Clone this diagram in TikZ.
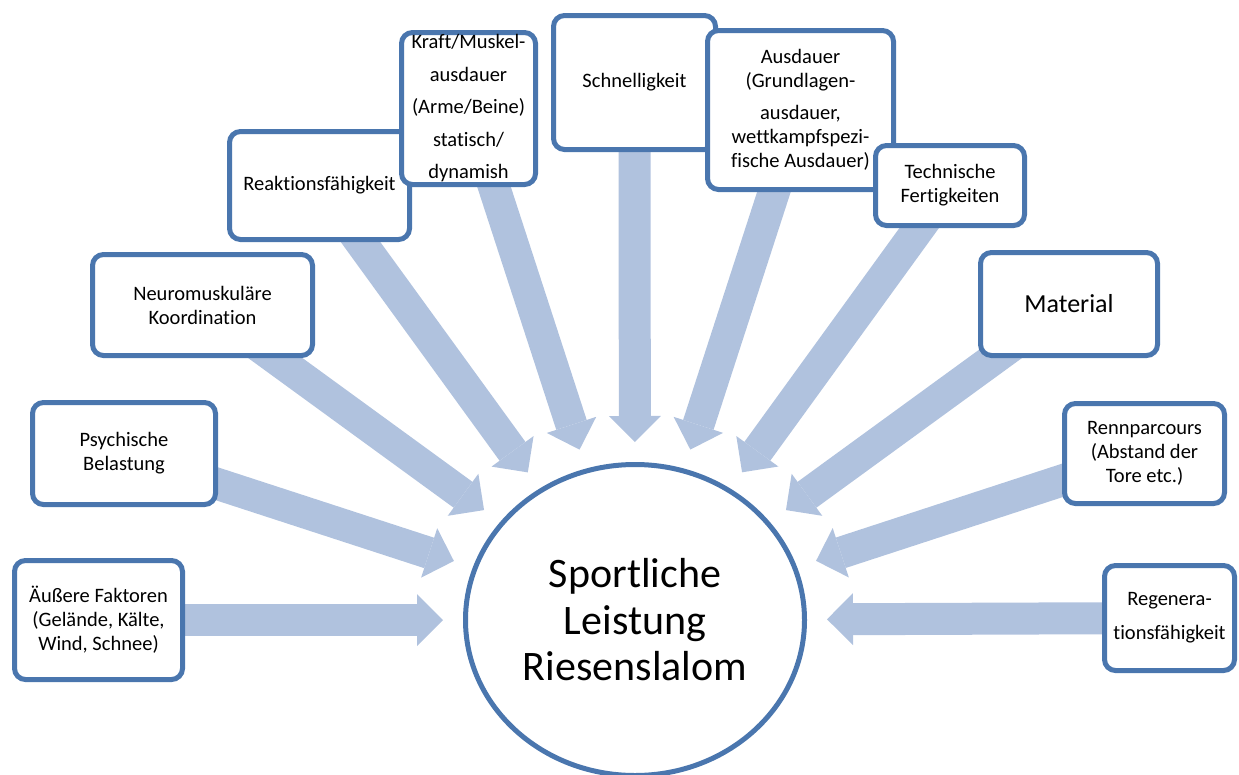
\documentclass[tikz,border=0pt]{standalone}
\usepackage{fontspec}
\setmainfont{Carlito}[Ligatures=NoCommon]
\usepackage{xcolor}
\definecolor{rahmenBlau}{HTML}{4A76AE}
\definecolor{pfeilBlau}{HTML}{B0C2DE}
\usepackage{tikz}
\usetikzlibrary{shapes.geometric, arrows.meta, positioning, backgrounds}

\begin{document}
\begin{tikzpicture}[x=1pt, y=-1pt,
    faktor/.style={draw=rahmenBlau, line width=5pt, rounded corners=11pt, fill=white, inner sep=0pt, align=center, font=\fontsize{20.5}{24}\selectfont},
    pfeil/.style={line width=32pt, draw=pfeilBlau, -{Triangle[width=52pt, length=26pt, line width=0pt]}, shorten >=20pt}]
        \useasboundingbox (0,0) rectangle (1239,774);

        % Centre
        \node[ellipse, draw=rahmenBlau, line width=5pt, fill=white, inner sep=0pt, minimum width=339pt, minimum height=311pt, align=center, font=\fontsize{42}{46.5}\selectfont] (ziel) at (635,620) {Sportliche\\Leistung\\Riesenslalom};

        % Factors, left to right
        \node[faktor, minimum width=168pt, minimum height=119pt] (aeuss) at (98.5,620) {Äußere Faktoren\\(Gelände, Kälte,\\Wind, Schnee)};
        \node[faktor, minimum width=183pt, minimum height=102pt] (psych) at (124,453.5) {Psychische\\Belastung};
        \node[faktor, minimum width=220pt, minimum height=101pt] (neuro) at (202.5,305) {Neuromuskuläre\\Koordination};
        \node[faktor, minimum width=180pt, minimum height=108pt] (reakt) at (319.5,185.5) {Reaktionsfähigkeit};
        \node[faktor, minimum width=134pt, minimum height=152pt, font=\fontsize{20.5}{32.5}\selectfont] (kraft) at (468.5,108.5) {Kraft/Muskel-\\ausdauer\\(Arme/Beine)\\statisch/\\dynamish};
        \node[faktor, minimum width=162pt, minimum height=134pt] (schnell) at (634.5,82.5) {Schnelligkeit};
        \node[faktor, minimum width=186pt, minimum height=159pt] (ausd) at (800.5,110) {Ausdauer\\(Grundlagen-\\[8.5pt]ausdauer,\\wettkampfspezi-\\fische Ausdauer)};
        \node[faktor, minimum width=149pt, minimum height=80pt] (techn) at (950,185.5) {Technische\\Fertigkeiten};
        \node[faktor, minimum width=177pt, minimum height=103pt, font=\fontsize{26}{30}\selectfont] (mat) at (1069,304) {Material};
        \node[faktor, minimum width=160pt, minimum height=100pt] (renn) at (1144.5,453.5) {Rennparcours\\(Abstand der\\Tore etc.)};
        \node[faktor, minimum width=130pt, minimum height=105pt, font=\fontsize{20.5}{34}\selectfont] (regen) at (1169.5,618) {Regenera-\\tionsfähigkeit};

        % Arrows behind the boxes
        \begin{scope}[on background layer]
        \draw[pfeil] (aeuss.center) -- (ziel);
        \draw[pfeil] (psych.center) -- (ziel);
        \draw[pfeil] (neuro.center) -- (ziel);
        \draw[pfeil] (reakt.center) -- (ziel);
        \draw[pfeil] (kraft.center) -- (ziel);
        \draw[pfeil] (schnell.center) -- (ziel);
        \draw[pfeil] (ausd.center) -- (ziel);
        \draw[pfeil] (techn.center) -- (ziel);
        \draw[pfeil] (mat.center) -- (ziel);
        \draw[pfeil] (renn.center) -- (ziel);
        \draw[pfeil] (regen.center) -- (ziel);
        \end{scope}
    \end{tikzpicture}
\end{document}
